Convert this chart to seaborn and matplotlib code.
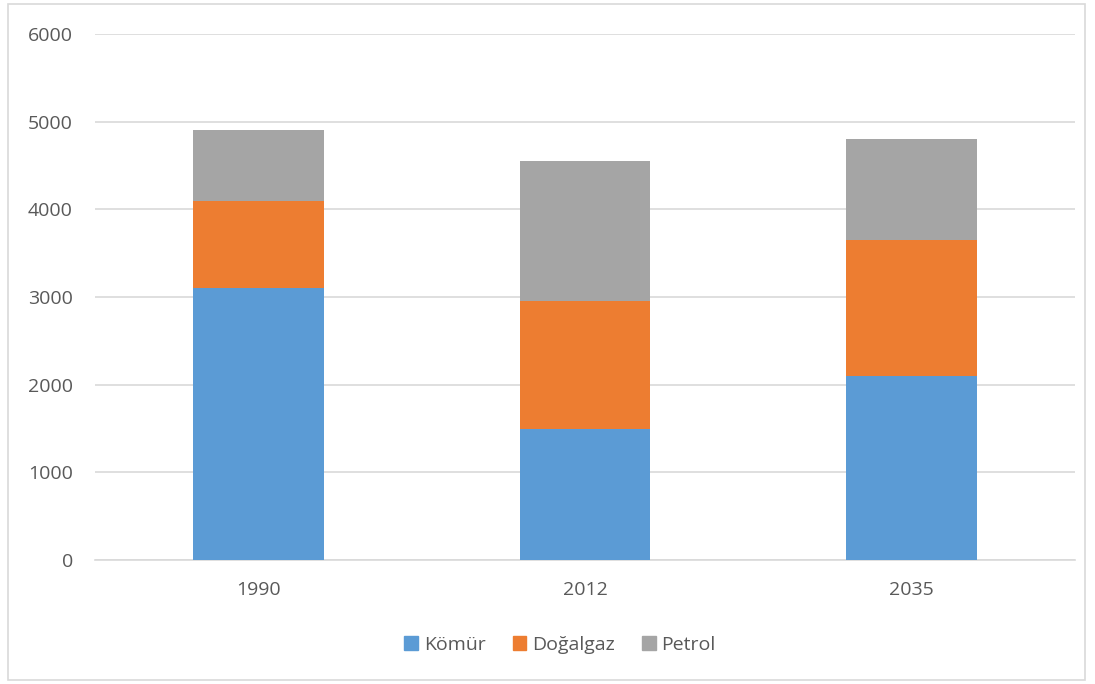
import matplotlib
matplotlib.use("Agg")
import matplotlib.pyplot as plt
import matplotlib.patches as mpatches
import seaborn as sns
import pandas as pd
import numpy as np

years = ["1990", "2012", "2035"]
komur = [3100, 1500, 2100]
dogalgaz = [1000, 1450, 1550]
petrol = [800, 1600, 1150]
series_names = ["Kömür", "Doğalgaz", "Petrol"]
colors = ["#5B9BD5", "#ED7D31", "#A5A5A5"]
yticks = [0, 1000, 2000, 3000, 4000, 5000, 6000]

sns.set_theme(style="white")
plt.rcParams['font.family'] = ['Open Sans', 'DejaVu Sans']

fig = plt.figure(figsize=(10.95, 6.84), dpi=100)
ax = fig.add_axes([95/1095, 124/684, 980/1095, 526/684])

k = np.array(komur)
d = np.array(dogalgaz)
p = np.array(petrol)
layers = [("Petrol", k + d + p, colors[2]),
          ("Doğalgaz", k + d, colors[1]),
          ("Kömür", k, colors[0])]
for name, vals, col in layers:
    df = pd.DataFrame({"year": years, "val": vals})
    sns.barplot(data=df, x="year", y="val", color=col, width=0.4,
                saturation=1, ax=ax, zorder=3, linewidth=0)

ax.set_ylim(0, 6000)
ax.set_yticks(yticks)
ax.set_yticklabels([str(v) for v in yticks])
ax.set_xlim(-0.5, 2.5)
ax.set_xlabel("")
ax.set_ylabel("")
ax.grid(axis="y", color="#D9D9D9", linewidth=1.2, zorder=0)
ax.set_axisbelow(True)
for s in ["top", "right", "left"]:
    ax.spines[s].set_visible(False)
ax.spines["bottom"].set_color("#D9D9D9")
ax.spines["bottom"].set_linewidth(1.2)
ax.tick_params(axis="both", length=0, labelsize=14, colors="#595959")
ax.tick_params(axis="y", pad=16)
ax.tick_params(axis="x", pad=15)

handles = [mpatches.Patch(color=c, label=n) for n, c in zip(series_names, colors)]
fig.legend(handles=handles, loc="center", bbox_to_anchor=(560/1095, 1 - 645/684),
           ncol=3, frameon=False, fontsize=14, handlelength=0.7, handleheight=0.7,
           handletextpad=0.3, columnspacing=1.4, labelcolor="#595959")

fig.patches.append(mpatches.Rectangle((8/1095, 4/684), 1077/1095, 676/684,
                                      transform=fig.transFigure, fill=False,
                                      edgecolor="#D9D9D9", linewidth=1.2))

fig.savefig("out.png", dpi=100)
